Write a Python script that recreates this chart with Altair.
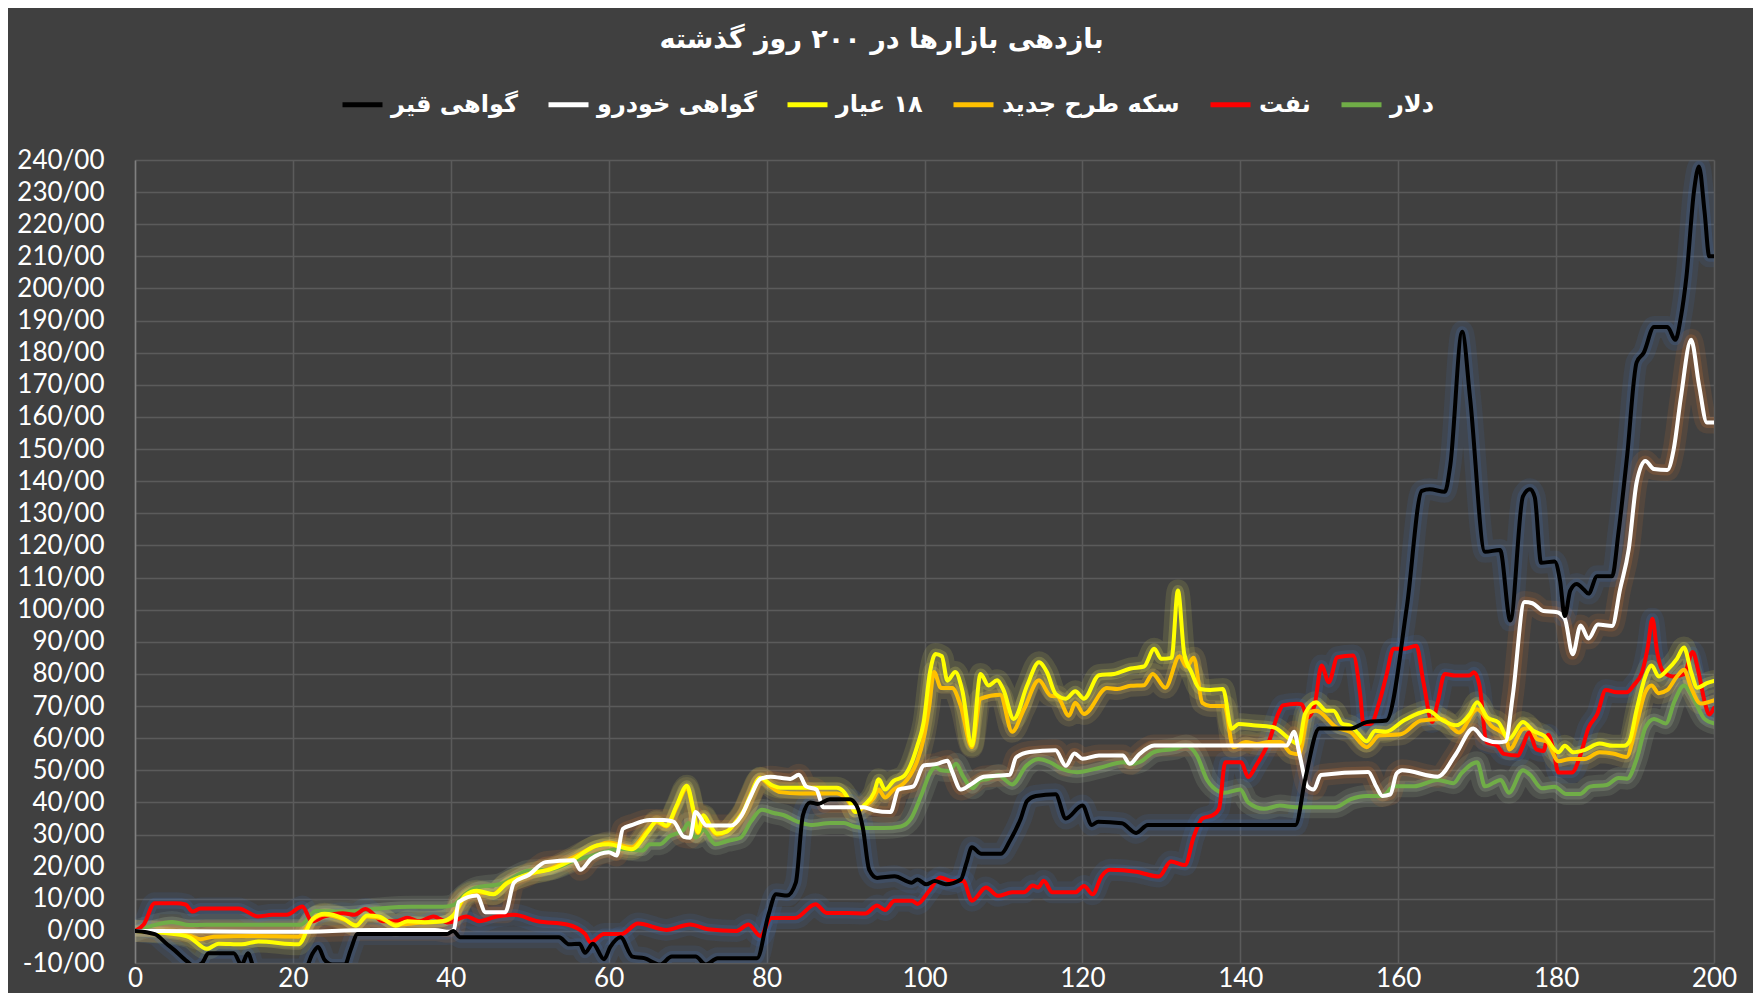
import altair as alt
import pandas as pd

TITLE = "بازدهی بازارها در ۲۰۰ روز گذشته"

# series names (draw order: first drawn at the bottom)
S_DOLLAR = "دلار"
S_OIL = "نفت"
S_COIN = "سکه طرح جدید"
S_GOLD18 = "۱۸ عیار"
S_CAR = "گواهی خودرو"
S_BITUMEN = "گواهی قیر"

DRAW_ORDER = [S_DOLLAR, S_OIL, S_COIN, S_GOLD18, S_CAR, S_BITUMEN]
LEGEND_ORDER = [S_BITUMEN, S_CAR, S_GOLD18, S_COIN, S_OIL, S_DOLLAR]

LINE_COLORS = {S_BITUMEN: "#000000", S_CAR: "#ffffff", S_GOLD18: "#ffff00",
               S_COIN: "#ffc000", S_OIL: "#ff0000", S_DOLLAR: "#70ad47"}
GLOW_COLORS = {S_BITUMEN: "#4472c4", S_CAR: "#ed7d31", S_GOLD18: "#ffff66",
               S_COIN: "#ffd966", S_OIL: "#4472c4", S_DOLLAR: "#c5e0b4"}

X_TICKS = list(range(0, 201, 20))
Y_TICKS = list(range(-10, 241, 10))

# (day, return %)
dollar = [(0, 0), (2, 1.5), (4.7, 2.8), (6.9, 1.8), (9, 1.9), (15, 1.9), (21, 1.9), (22.9, 6.2),
          (26.5, 6), (30.9, 7), (35, 7.5), (39, 7.5), (40.3, 8), (41.8, 11.4), (43.3, 13.5),
          (46.3, 14.6), (49.8, 18.7), (52.7, 19.2), (55.6, 21.8), (58.5, 23.9), (61.5, 25.5),
          (64.3, 25), (65.2, 27), (66.5, 27), (67.7, 29.4), (69.5, 31.5), (70.1, 33.6), (71, 29),
          (72, 31.5), (73.5, 27), (75, 28), (76.7, 29), (78, 34), (79.4, 37.7), (80.9, 36.7),
          (82.2, 36), (83.9, 34), (85.6, 33), (88.1, 33.6), (89.8, 33.6), (91.1, 32.5), (92.8, 32),
          (94.9, 32), (97, 32.5), (98.3, 35), (99.6, 42.3), (100.8, 49.6), (101.4, 51), (102.1, 50),
          (103.1, 49.8), (104, 52), (104.8, 48.5), (106.1, 44.4), (107.1, 47), (107.9, 47.2),
          (109.4, 48.5), (110, 47.5), (111.1, 45.6), (112.9, 51.4), (114.4, 53.5), (115.9, 52.5),
          (117.4, 50.4), (119.3, 49.4), (122.2, 50.8), (125.2, 52.5), (126.4, 52), (127.2, 52.5),
          (129.1, 55.7), (131.7, 56.7), (133.1, 57.7), (134.5, 54.6), (135.8, 47), (136.5, 44.8),
          (138, 43), (140, 44), (141, 40), (143, 38), (145, 39), (147, 38.5), (152, 38.5), (154, 41),
          (156, 42), (158, 42), (159.5, 45), (162, 45), (165, 47), (167, 46), (168, 49), (170, 52.5),
          (171, 45), (173, 47), (174, 43), (175.8, 50), (176.7, 48.6), (178.2, 44.4), (179.8, 44.9),
          (181.3, 42.6), (183, 42.6), (184.3, 44.9), (186.4, 45.4), (187.9, 47.6), (189, 47.4),
          (190.2, 53.5), (191.3, 63.2), (192.4, 66), (193.9, 64.6), (195, 71.5), (196.2, 76.4),
          (197.3, 72.9), (198.8, 66), (200, 64.6)]

oil = [(0, 0), (1.1, 2), (2.5, 8.6), (5.2, 8.6), (6.4, 8.2), (7.3, 6), (8.3, 7), (13.1, 7),
       (15.6, 4.5), (17.4, 5), (19.2, 5), (21.2, 7.6), (22.4, 3), (24, 4.5), (26.3, 5.5), (27.8, 5),
       (29.2, 6.8), (31.4, 3), (33, 3), (34.5, 4.1), (36, 3), (37.8, 4.5), (39.7, 2.6), (42, 4.5),
       (43.6, 3), (45.8, 4.5), (48, 5), (51, 3), (54.7, 2), (57, -0.9), (57.7, -3.6), (59.4, -1),
       (61.6, -1), (63.7, 2.3), (67.3, 0.3), (70.3, 2), (72.6, 0.5), (76.2, 0), (77.7, 2),
       (79.2, -1.6), (80.6, 4), (83.6, 4), (86.2, 8.3), (87.6, 5.6), (90.2, 5.6), (92.5, 5.4),
       (94, 7.9), (95, 6.5), (96.2, 9.4), (98.4, 9.4), (99.1, 8.4), (100.6, 12.5), (102, 16.6),
       (103.5, 15.5), (104.9, 15.6), (106, 9.4), (107.8, 13.5), (109.3, 10.9), (111.1, 12),
       (112.6, 12), (113.7, 14.1), (114.4, 13.5), (115.1, 15.6), (116.2, 12), (119.1, 12),
       (120.2, 14), (121.3, 11.4), (122.4, 16.9), (123.5, 19), (126.8, 18.4), (129.7, 16.9),
       (131.2, 21.6), (133, 20.5), (134.1, 29.3), (135.2, 35), (136.5, 36), (137.3, 38),
       (138.1, 52.5), (140.1, 52.5), (141, 47.9), (142, 51.5), (143.6, 58.8), (144.9, 68.2),
       (145.4, 70.2), (147.2, 70.7), (147.8, 70.5), (148.5, 66.4), (149.4, 70.2), (150.3, 82.6),
       (151.2, 77.4), (152.3, 85.2), (154.3, 85.7), (155.2, 73.3), (155.6, 64.4), (156.5, 64.4),
       (157.6, 71.2), (158.5, 79.5), (159.4, 87.8), (160.7, 87.8), (162.3, 88.8), (163.2, 77.4),
       (164.3, 65), (165, 71.2), (165.9, 80), (167.2, 79.5), (169, 79.5), (169.6, 80.5),
       (170.3, 76.4), (171.2, 58.8), (172.5, 57.7), (173.4, 55.1), (175.2, 54.6), (175.7, 57),
       (176.6, 61.8), (177.5, 56.5), (178.4, 56), (179, 61.1), (179.6, 57), (180.3, 49.3),
       (182, 49.3), (183.1, 54.9), (184.1, 63.2), (185.2, 67.4), (186.3, 75), (187.7, 74.3),
       (189, 74.3), (189.8, 76.4), (190.9, 80.6), (191.6, 88.2), (192.2, 97.2), (192.8, 86.8),
       (193.6, 80.6), (194.9, 79.2), (196.2, 79.9), (197.3, 86.8), (198.1, 79.9), (198.8, 71.5),
       (199.4, 67.4), (200, 69.4)]

coin = [(0, 0), (4.7, -0.5), (6.9, -1.5), (8.3, -2.6), (10, -1.8), (15, -1.6), (20.7, -1.8),
        (22.5, 3.5), (24, 5), (26.5, 3.5), (28, 1.8), (29.4, 4.5), (31, 4), (33, 2), (36, 2.5),
        (39, 3), (40.3, 4.5), (41.8, 10.5), (43.3, 12), (45.4, 11.5), (47, 14.8), (49.8, 17.5),
        (52.7, 19.5), (55.6, 23), (58.5, 26.5), (60, 27.5), (62.9, 26), (65, 31.5), (66.1, 33.8),
        (67.3, 32.5), (68.6, 38.5), (69.9, 44.5), (70.7, 37.5), (71.3, 30.5), (72, 35.5),
        (72.8, 32.5), (73.7, 30), (75, 31), (76.2, 34), (77.1, 37), (77.9, 41.5), (79.2, 47.5),
        (80.5, 45), (81.7, 43.2), (84.2, 42.8), (88.9, 42.8), (89.7, 42), (90.6, 39.5), (91.2, 37),
        (92.3, 38.5), (93.6, 41.5), (94.2, 44), (95, 41.5), (96.1, 44), (97.4, 46), (98.2, 48.5),
        (99.1, 53), (99.9, 60), (100.6, 70), (101.2, 80.6), (102.1, 75.6), (103.5, 75.6),
        (104.6, 70), (106, 57.2), (107.1, 72.3), (109.6, 73.5), (111.1, 62), (112.6, 69),
        (114.5, 78), (116, 73.2), (116.8, 73), (118.3, 67), (119.1, 71), (120.2, 67.5),
        (123.1, 75.6), (124.4, 75.3), (126.1, 76.3), (127.8, 76.5), (128.9, 80), (130.5, 75.7),
        (132.3, 85.5), (133.2, 82.3), (134.1, 85), (135.2, 71), (136.2, 70), (138, 70),
        (139.1, 57.2), (140.7, 58.8), (142.1, 58.2), (143.6, 58.8), (145.1, 58.8), (146.4, 55.4),
        (147.4, 55), (148.7, 68), (149.6, 68.5), (152.2, 63.3), (154, 61.8), (156, 57.2),
        (157.6, 60.8), (160.3, 61.2), (162.9, 65.5), (165.5, 66), (167.7, 61.8), (170, 69),
        (171.8, 63.8), (173.6, 60.7), (174.1, 56.5), (175.8, 62.8), (176.7, 63.2), (177.6, 59.7),
        (178.8, 59), (180.3, 52.8), (181.8, 53.5), (183.6, 53.5), (185.5, 55.6), (187.2, 55.2),
        (188.9, 54.1), (190.2, 64.6), (191.3, 74.3), (192.1, 76.4), (193, 74), (194.1, 75),
        (195.3, 79.2), (196.2, 81.3), (197.1, 75.7), (198.3, 70.8), (200, 71.8)]

gold18 = [(0, 0), (4.7, -0.9), (6.9, -2), (9.1, -5.6), (10.6, -4), (13.5, -4.2), (15.6, -3.3),
          (20.7, -4.2), (22.5, 3.7), (24, 5.3), (26.5, 3.7), (28, 1.6), (29.4, 4.8), (30.9, 4.5),
          (33, 1.6), (34.5, 3), (36.7, 2.7), (38.9, 3), (40.3, 4.8), (41.8, 11), (43.3, 12.5),
          (45.4, 11.4), (47, 14.6), (49.8, 17.7), (52.7, 19.2), (55.6, 22.4), (58.5, 26.6),
          (60, 27), (62.9, 25.4), (65, 31), (66.1, 34.3), (67.3, 32.8), (68.6, 39), (69.9, 45.2),
          (70.7, 38), (71.3, 30.8), (72, 36), (72.8, 33), (73.7, 30.3), (75, 31), (76.2, 34.3),
          (77.1, 37.4), (77.9, 42), (79.2, 47.7), (80.5, 45.6), (81.7, 44.6), (84.2, 44.6),
          (88.9, 44.6), (89.7, 43.5), (90.6, 40), (91.2, 37), (92.3, 39), (93.6, 43), (94.2, 47.2),
          (95, 44), (96.1, 46.7), (97.4, 48.2), (98.2, 51.4), (99.1, 57.7), (99.9, 65),
          (100.7, 80.6), (101.4, 86.2), (102.2, 85.5), (102.9, 77.9), (103.9, 80.6), (104.8, 74.7),
          (106, 57.7), (107.1, 80), (108.1, 76.4), (109.2, 78), (110, 75), (111.3, 66), (113, 76.4),
          (114.5, 83.6), (115.5, 80.6), (116.6, 73.8), (117.9, 72.3), (119.1, 74.6), (120.2, 72.3),
          (122.1, 79.6), (124, 80), (126.1, 81.7), (127.8, 82.3), (129.1, 87.8), (130, 84.7),
          (131.3, 85), (132.1, 106), (132.9, 86.2), (133.8, 80.6), (134.9, 75.3), (136.2, 75),
          (137.8, 75.3), (138.9, 62.9), (139.8, 64.4), (141.6, 64), (144.3, 63.3), (146, 60.2),
          (147.4, 58.1), (148.2, 67.6), (149.6, 71.2), (150.9, 68.5), (151.8, 68.5), (152.9, 64.5),
          (154, 63.8), (154.9, 61.5), (156, 59), (157.1, 62.3), (158.4, 62), (160.7, 65.5),
          (162.9, 68), (163.8, 68.5), (165.5, 65.7), (167.3, 64), (169.1, 67.6), (170, 71.2),
          (171.3, 66.4), (172.7, 64.9), (174, 59.7), (175.8, 65), (177.1, 62.3), (178.5, 60.7),
          (180.3, 55.6), (181.1, 57.6), (182.2, 55.6), (183.6, 56.3), (185.5, 58.3), (187.2, 57.6),
          (188.6, 57.6), (189.3, 59), (190.2, 68.8), (191.3, 79.2), (192.1, 82.6), (193, 79.2),
          (194.1, 81.3), (195.3, 84.7), (196.2, 88.2), (197.1, 80.6), (197.9, 75.7), (199.1, 77.1),
          (200, 77.8)]

car = [(0, 0), (20, -0.3), (30, 0.3), (38, 0.3), (39.8, -0.3), (40.4, 0.5), (41, 9),
       (43.3, 11), (44.4, 5.8), (46.9, 5.8), (48, 15), (49.8, 17.3), (52, 21.4), (55.6, 22),
       (56.4, 19), (57.8, 22.5), (60, 24.5), (61, 23.5), (61.8, 31.8), (63, 33), (65.2, 34.5),
       (67, 34.5), (68.2, 34), (69.5, 29.3), (70.3, 29), (71, 37), (72.4, 32.8), (75.5, 32.8),
       (76.8, 35.8), (78, 42), (79.2, 47.3), (80.5, 48), (83, 47.3), (84.1, 48.6), (85, 45),
       (86.3, 44), (87.2, 38.5), (92.3, 38.5), (93.6, 37.5), (95.7, 37), (96.7, 44), (98.6, 45),
       (99.9, 51.5), (101.6, 52), (102.9, 53), (103.5, 49.6), (104.6, 44), (105.8, 45.5),
       (107.5, 48), (110.8, 48.6), (111.6, 54), (113.3, 55.7), (116.6, 56.2), (117.9, 51.4),
       (119, 55.2), (120, 53.6), (122.1, 54.6), (125.1, 54.6), (126, 52), (127.2, 55),
       (129.1, 57.7), (145.9, 57.7), (146.8, 62), (147.5, 55), (148.5, 45), (149.3, 44),
       (150.2, 48.5), (156.2, 49.5), (157.2, 45), (158, 42), (159, 42.5), (159.8, 49), (160.5, 50),
       (165, 48), (167.3, 55), (169.5, 63), (170.9, 59.7), (172.7, 58.7), (173.6, 59), (174.5, 73),
       (176, 102.4), (177, 102), (178.4, 99.6), (180, 99.3), (181.1, 97.2), (182.1, 86.1),
       (183.1, 95.1), (184.1, 91), (185.3, 95.4), (187.1, 94.9), (188.1, 106.3), (189.2, 118.8),
       (190.2, 139.6), (191.3, 146.3), (192.4, 143.8), (194.1, 143.5), (194.9, 150), (195.8, 166),
       (197.1, 184), (198.1, 170), (199.1, 158.3), (200, 158.3)]

bitumen = [(0, 0), (2.5, -1), (4, -4), (5, -6), (6.6, -9.5), (7.5, -11), (8.5, -10), (9.3, -7),
           (12.5, -7), (13.5, -10.5), (14.3, -7), (15.2, -12), (21.5, -12), (22.5, -7), (23.2, -5),
           (24, -9), (25, -10.5), (26.6, -10.5), (27.3, -6), (28.2, -1), (39.5, -1), (40.3, 0),
           (41.2, -2), (53.7, -2), (55, -4.2), (56.3, -4), (57, -6.8), (58, -4), (59.4, -8.8),
           (60.2, -5), (61.5, -2), (63, -8), (64.5, -8.5), (66.5, -10.5), (68, -8), (71, -8),
           (72.3, -10.5), (73.8, -8.5), (78.8, -8.5), (80.2, 4.7), (81.2, 11.4), (82.6, 11),
           (83.7, 15), (84.6, 36), (85.5, 40), (86.5, 39.5), (88, 41), (90.5, 41), (91.4, 39),
           (92.2, 32), (93, 19), (94, 16.5), (96.2, 17), (98.4, 15), (99.1, 16), (100.2, 14.5),
           (101.3, 15.5), (102.7, 14.5), (104.6, 16), (105.3, 21), (106, 26), (107.2, 24),
           (109.7, 24), (110.8, 28), (112.2, 35), (113, 40.5), (114.1, 42), (116.6, 42.5),
           (117.9, 35), (120, 39), (121.2, 33), (122, 34), (125, 33.5), (126.8, 30.5), (128.3, 33),
           (147, 33), (148.2, 47), (150, 63), (154, 63), (156, 65), (158.5, 65.5), (161.1, 101),
           (163, 137), (164, 137.5), (165.9, 136.7), (166.6, 145), (168.1, 186.5), (169.1, 166),
           (171, 118), (172.9, 118.6), (174.2, 96.6), (175.8, 135.3), (176.7, 137.5), (177.3, 135),
           (178.1, 114.6), (179.8, 115), (180.5, 109), (181.1, 98), (181.8, 106), (182.6, 108),
           (183.5, 106.3), (184.1, 105), (185.2, 110.4), (187.1, 110.4), (187.9, 124), (189, 148),
           (190.2, 177), (191.1, 180), (192.4, 188), (194.1, 188), (195.1, 184), (195.8, 191),
           (196.5, 203.5), (197.5, 231), (198.1, 238), (198.8, 224), (199.4, 210), (200, 210)]

SERIES_POINTS = {S_DOLLAR: dollar, S_OIL: oil, S_COIN: coin, S_GOLD18: gold18,
                 S_CAR: car, S_BITUMEN: bitumen}

frames = {}
for name in DRAW_ORDER:
    pts = SERIES_POINTS[name]
    frames[name] = pd.DataFrame({
        "series": name,
        "day": [p[0] for p in pts],
        "value": [p[1] for p in pts],
        "glow": GLOW_COLORS[name],
    })
all_df = pd.concat([frames[n] for n in DRAW_ORDER], ignore_index=True)

FONT_NUM = "Lato"
FONT_FA = "DejaVu Sans"

x_enc = alt.X("day:Q", scale=alt.Scale(domain=[0, 200], nice=False),
              axis=alt.Axis(values=X_TICKS, title=None, labelFont=FONT_NUM, labelFontSize=26,
                            labelColor="#ffffff", labelPadding=2, ticks=False, tickSize=0,
                            domain=False, grid=True, gridColor="#5b5b5b", gridWidth=1.5,
                            labelFlush=False, labelOverlap=False))
y_enc = alt.Y("value:Q", scale=alt.Scale(domain=[-10, 240], nice=False, zero=False),
              axis=alt.Axis(values=Y_TICKS, title=None, labelExpr="datum.value + '/00'",
                            labelFont=FONT_NUM, labelFontSize=26, labelColor="#ffffff",
                            labelPadding=31, ticks=False, tickSize=0, domain=True,
                            domainColor="#808080", domainWidth=1.5, grid=True,
                            gridColor="#5b5b5b", gridWidth=1.5, labelFlush=False,
                            labelOverlap=False))

glow_wide = alt.Chart(all_df).mark_line(
    strokeWidth=22, opacity=0.11, interpolate="monotone", clip=True,
    strokeCap="round", strokeJoin="round"
).encode(x=x_enc, y=y_enc, stroke=alt.Stroke("glow:N", scale=None), detail="series:N")

glow_narrow = alt.Chart(all_df).mark_line(
    strokeWidth=11, opacity=0.18, interpolate="monotone", clip=True,
    strokeCap="round", strokeJoin="round"
).encode(x=x_enc, y=y_enc, stroke=alt.Stroke("glow:N", scale=None), detail="series:N")

color_scale = alt.Scale(domain=LEGEND_ORDER, range=[LINE_COLORS[n] for n in LEGEND_ORDER])
legend = alt.Legend(title=None, orient="none", legendX=205, legendY=-78, direction="horizontal",
                    symbolType="stroke", symbolStrokeWidth=5, symbolSize=1600,
                    labelFont=FONT_FA, labelFontSize=24, labelFontWeight="bold",
                    labelColor="#ffffff", columnPadding=20, labelOffset=6, labelLimit=400,
                    symbolOpacity=1, labelExpr="'\u200f' + datum.label")

line_layers = []
for name in DRAW_ORDER:
    line_layers.append(
        alt.Chart(frames[name]).mark_line(
            strokeWidth=4, interpolate="monotone", clip=True,
            strokeCap="round", strokeJoin="round"
        ).encode(x=x_enc, y=y_enc,
                 color=alt.Color("series:N", scale=color_scale, legend=legend))
    )

chart = alt.layer(glow_wide, glow_narrow, *line_layers).resolve_scale(
    stroke="independent"
).properties(
    width=1579,
    height=803,
    background="#404040",
    padding={"left": 127, "top": 152, "right": 39, "bottom": 30},
    autosize=alt.AutoSizeParams(type="none"),
    title=alt.TitleParams(TITLE, font=FONT_FA, fontSize=27, fontWeight="bold",
                          color="#ffffff", anchor="middle", frame="group", dx=-43, offset=28),
).configure_view(strokeWidth=0)

chart.save("out.html", embed_options={"renderer": "svg", "actions": False})
